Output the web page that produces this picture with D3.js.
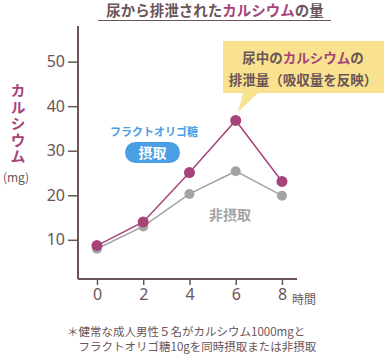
<!DOCTYPE html>
<html>
<head>
<meta charset="utf-8" />
<script src="https://cdnjs.cloudflare.com/ajax/libs/d3/7.8.5/d3.min.js"></script>
<style>
  body { margin: 0; background: #fff; }
  svg { display: block; font-family: "Noto Sans CJK JP", "Noto Sans", sans-serif; }
</style>
</head>
<body>
<svg width="389" height="354"></svg>
<script>
const hours = [0, 2, 4, 6, 8];
const withFos = [8.7, 14.0, 25.1, 36.8, 23.1];
const withoutFos = [8.0, 13.0, 20.3, 25.4, 19.9];
const yTicks = [10, 20, 30, 40, 50];

const purple = "#a6447a",
  gray = "#a3a3a3",
  brown = "#6b5457",
  blue = "#4a9ee3";

const svg = d3.select("svg");

const xScale = d3.scaleLinear().domain([-0.82, 8.65]).range([78, 297]);
const yScale = d3.scaleLinear().domain([1.2, 58]).range([279, 26]);

// title
const title = svg.append("text")
  .attr("x", 215).attr("y", 16)
  .attr("text-anchor", "middle")
  .style("font-size", "14.5px").style("font-weight", "bold")
  .attr("fill", brown);
title.append("tspan").text("尿から排泄された");
title.append("tspan").attr("fill", purple).text("カルシウム");
title.append("tspan").text("の量");
svg.append("line")
  .attr("x1", 98).attr("x2", 331).attr("y1", 20.5).attr("y2", 20.5)
  .attr("stroke", brown).attr("stroke-width", 1.2);

// axes
const yAxis = d3.axisLeft(yScale).tickValues(yTicks).tickSize(10).tickPadding(3);
const gy = svg.append("g").attr("transform", "translate(78,0)").call(yAxis);
gy.select(".domain").attr("d", "M0," + yScale(58) + "V" + yScale(1.2));

const xAxis = d3.axisBottom(xScale).tickValues(hours).tickSize(6).tickPadding(4);
const gx = svg.append("g").attr("transform", "translate(0,279)").call(xAxis);
gx.select(".domain").attr("d", "M78,0H297");

svg.selectAll(".domain").attr("stroke", brown).attr("stroke-width", 2);
svg.selectAll(".tick line").attr("stroke", brown).attr("stroke-width", 1.5);
svg.selectAll(".tick text")
  .attr("fill", brown)
  .style("font-size", "16px")
  .style("font-family", "'Noto Sans', sans-serif");

svg.append("text")
  .attr("x", 292).attr("y", 304)
  .attr("fill", brown).style("font-size", "12px")
  .text("時間");

// y label (vertical)
svg.append("text")
  .attr("x", 18).attr("y", 83)
  .style("writing-mode", "vertical-rl")
  .style("letter-spacing", "1.5px")
  .attr("fill", purple).style("font-size", "15px").style("font-weight", "bold")
  .text("カルシウム");
svg.append("text")
  .attr("x", 16).attr("y", 182).attr("text-anchor", "middle")
  .attr("fill", brown).style("font-size", "12px")
  .text("(mg)");

// lines
const line = d3.line().x((d, i) => xScale(hours[i])).y(d => yScale(d));
svg.append("path").attr("d", line(withoutFos))
  .attr("fill", "none").attr("stroke", gray).attr("stroke-width", 1.5);
svg.selectAll("circle.off").data(withoutFos).enter().append("circle")
  .attr("class", "off")
  .attr("cx", (d, i) => xScale(hours[i])).attr("cy", d => yScale(d))
  .attr("r", 5).attr("fill", gray);
svg.append("path").attr("d", line(withFos))
  .attr("fill", "none").attr("stroke", purple).attr("stroke-width", 1.5);
svg.selectAll("circle.on").data(withFos).enter().append("circle")
  .attr("class", "on")
  .attr("cx", (d, i) => xScale(hours[i])).attr("cy", d => yScale(d))
  .attr("r", 5.5).attr("fill", purple);

// labels
svg.append("text")
  .attr("x", 154).attr("y", 136).attr("text-anchor", "middle")
  .attr("fill", blue).style("font-size", "11px").style("font-weight", "bold")
  .text("フラクトオリゴ糖");
svg.append("rect")
  .attr("x", 125).attr("y", 142).attr("width", 55).attr("height", 21)
  .attr("rx", 10.5).attr("fill", blue);
svg.append("text")
  .attr("x", 152.5).attr("y", 158).attr("text-anchor", "middle")
  .attr("fill", "#fff").style("font-size", "14px").style("font-weight", "bold")
  .text("摂取");
svg.append("text")
  .attr("x", 230).attr("y", 220).attr("text-anchor", "middle")
  .attr("fill", gray).style("font-size", "14px").style("font-weight", "bold")
  .text("非摂取");

// callout
svg.append("path")
  .attr("d", "M223,41H384V93H258L238,112L243,93H223Z")
  .attr("fill", "#f8e28f");
const c1 = svg.append("text")
  .attr("x", 303).attr("y", 63).attr("text-anchor", "middle")
  .attr("fill", brown).style("font-size", "13.5px").style("font-weight", "bold");
c1.append("tspan").text("尿中の");
c1.append("tspan").attr("fill", purple).text("カルシウム");
c1.append("tspan").text("の");
svg.append("text")
  .attr("x", 303).attr("y", 85).attr("text-anchor", "middle")
  .attr("fill", brown).style("font-size", "13.5px").style("font-weight", "bold")
  .text("排泄量（吸収量を反映）");

// footnote
const notes = ["＊健常な成人男性５名がカルシウム1000mgと", "　フラクトオリゴ糖10gを同時摂取または非摂取"];
svg.selectAll("text.note").data(notes).enter().append("text")
  .attr("class", "note")
  .attr("x", 67).attr("y", (d, i) => 336 + i * 15)
  .attr("fill", brown).style("font-size", "11.5px")
  .text(d => d);
</script>
</body>
</html>
